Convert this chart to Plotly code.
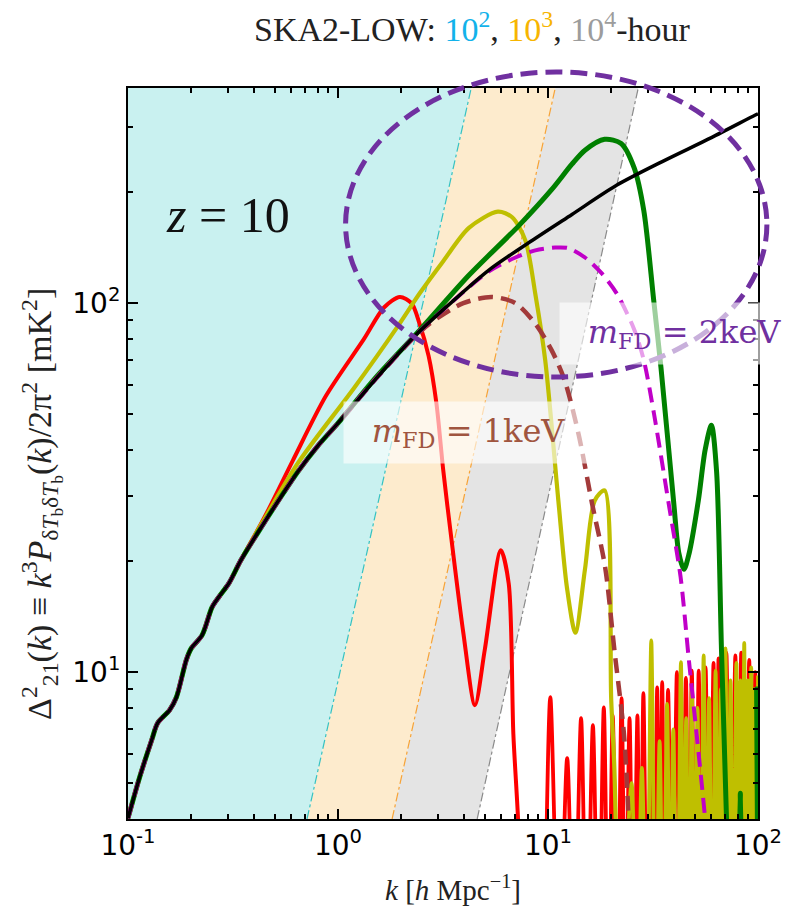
import plotly.graph_objects as go
import math

# ---------------- data ----------------
# sensitivity band edges (power-law lines): k at y = y_edge[0] and y_edge[1]
y_edge = [4.0, 383.0]
k_edge_100h = [0.712, 4.31]
k_edge_1000h = [1.81, 10.83]
k_edge_10000h = [4.60, 26.9]

# CDM (black)
k_cdm = [0.1, 0.1136, 0.1297, 0.1384, 0.1577, 0.170, 0.1896, 0.2, 0.2254, 0.2514,
         0.2711, 0.3022, 0.3446, 0.437, 0.55, 0.645, 0.8, 1.0, 1.5, 2.29, 3.3, 5.23, 8.72,
         13.0, 21.3, 35.0, 60.0, 96.6, 100.0]
d_cdm = [4.02, 5.19, 6.55, 7.28, 7.89, 8.55, 10.8, 11.6, 12.6, 15.0,
         16.0, 17.4, 20.1, 25.0, 30.6, 35.0, 41.0, 47.3, 62.0, 80.9, 98.0, 123.0, 150.0,
         174.0, 209.0, 242.0, 281.0, 323.0, 326.0]

# red model
k_red = [0.1, 0.1136, 0.1297, 0.1384, 0.1577, 0.170, 0.1896, 0.2, 0.2254, 0.2514,
         0.2711, 0.3022, 0.3446, 0.45, 0.61, 0.875, 1.33, 1.66, 1.97, 2.24, 2.44,
         2.7, 2.94, 3.17, 3.46, 3.95, 4.49, 5.0, 5.96, 6.5, 6.84, 7.2, 7.5]
d_red = [4.02, 5.19, 6.55, 7.28, 7.89, 8.55, 10.8, 11.6, 12.6, 15.0,
         16.0, 17.4, 20.1, 26.5, 37.5, 56.0, 80.0, 97.5, 104.0, 100.0, 88.3,
         72.0, 53.7, 35.3, 23.2, 12.8, 8.14, 11.5, 21.4, 17.4, 6.8, 4.0, 2.0]
# red numerical noise at high k
k_red_noise = [9.6, 10.26, 11.3, 12.34, 13.3, 14.37, 15.3, 16.36, 17.4, 18.44, 19.4,
               20.33, 21.4, 22.41, 23.4, 24.45, 25.5, 26.66, 27.5, 28.46, 29.7,
               31.03, 32.0, 33.11, 34.0, 34.97, 36.1, 37.3, 39.2, 41.1, 43.2, 45.37,
               46.9, 48.4, 50.3, 52.2, 54.2, 56.3, 58.8, 61.4, 63.1, 64.9, 67.8,
               70.7, 74.3, 78.0, 80.6, 83.2, 87.0, 90.8, 94.0, 97.0, 100.0]
d_red_noise = [1.5, 8.56, 1.5, 5.85, 1.5, 7.5, 1.5, 7.18, 1.5, 8.03, 1.5,
               7.64, 1.5, 8.5, 1.5, 7.5, 1.5, 7.64, 1.5, 8.77, 1.5,
               8.2, 1.5, 9.1, 1.5, 9.4, 1.5, 8.95, 1.5, 10.0, 1.5, 9.65,
               1.5, 10.1, 1.5, 10.1, 1.5, 10.3, 1.5, 10.6, 1.5, 10.9, 1.5,
               11.3, 1.5, 11.1, 1.5, 11.3, 1.5, 10.8, 1.5, 10.0, 1.5]

# yellow model
k_yel = [0.1, 0.1136, 0.1297, 0.1384, 0.1577, 0.170, 0.1896, 0.2, 0.2254, 0.2514,
         0.2711, 0.3022, 0.3446, 0.437, 0.645, 1.2, 1.91, 2.45, 3.17, 4.2, 5.77,
         6.75, 7.8, 8.7, 9.7, 11.2, 12.3, 13.5, 15.0, 16.7, 18.6, 20.0, 20.7, 21.5]
d_yel = [4.02, 5.19, 6.55, 7.28, 7.89, 8.55, 10.8, 11.6, 12.6, 15.0,
         16.0, 17.4, 20.1, 25.5, 36.9, 59.2, 86.0, 106.4, 130.0, 160.0, 177.0,
         171.0, 148.0, 106.0, 70.0, 29.2, 17.0, 12.8, 19.0, 29.2, 31.1, 8.4, 5.5, 2.0]
k_yel_noise = [22.5, 25.0, 26.5, 28.0, 29.5, 31.03, 32.5, 34.0, 35.4, 36.9, 38.2,
               39.5, 41.2, 42.96, 44.2, 45.5, 47.0, 48.4, 50.0, 51.5, 53.3, 55.1,
               56.8, 58.5, 60.6, 62.8, 64.6, 66.5, 68.2, 70.0, 72.0, 74.0, 76.4,
               78.9, 80.7, 82.5, 84.2, 86.0, 87.7, 89.5, 91.1, 92.8, 94.6, 96.5, 98.5, 100.0]
d_yel_noise = [1.5, 5.0, 1.5, 5.5, 1.5, 12.2, 1.5, 6.5, 1.5, 8.2, 1.5,
               7.0, 1.5, 10.65, 1.5, 7.5, 1.5, 9.1, 1.5, 8.0, 1.5, 11.1,
               1.5, 8.5, 1.5, 10.1, 1.5, 9.0, 1.5, 11.6, 1.5, 9.5, 1.5,
               10.6, 1.5, 9.5, 1.5, 12.0, 1.5, 9.5, 1.5, 10.3, 1.5, 9.0, 1.5, 9.8]

# green model
k_grn = [0.1, 0.1136, 0.1297, 0.1384, 0.1577, 0.170, 0.1896, 0.2, 0.2254, 0.2514,
         0.2711, 0.3022, 0.3446, 0.437, 0.55, 0.645, 0.8, 1.0, 1.5, 2.45, 4.2, 7.25, 10.4,
         13.0, 15.0, 18.6, 22.3, 25.7, 28.6, 31.8, 34.5, 39.6, 42.0, 44.4, 47.0, 52.0,
         56.0, 60.0, 63.5, 67.0, 70.8, 73.0, 80.0, 82.4, 85.0, 96.0, 98.5, 100.0]
d_grn = [4.02, 5.19, 6.55, 7.28, 7.89, 8.55, 10.8, 11.6, 12.6, 15.0,
         16.0, 17.4, 20.1, 25.0, 30.6, 35.0, 41.0, 47.3, 62.5, 84.5, 119.0, 162.0, 203.0,
         238.0, 259.7, 278.0, 271.0, 233.0, 178.0, 103.0, 67.0, 29.2, 21.0, 19.0, 21.0, 29.2,
         40.0, 46.7, 35.0, 11.5, 4.0, 2.0, 2.0, 4.7, 2.0, 2.0, 9.0, 2.0]

# m_FD = 1 keV (brown dashed)
k_1kev = [0.1, 0.1136, 0.1297, 0.1384, 0.1577, 0.170, 0.1896, 0.2, 0.2254, 0.2514,
          0.2711, 0.3022, 0.3446, 0.437, 0.55, 0.645, 0.8, 1.0, 1.5, 2.29, 2.73, 3.95, 5.4,
          7.0, 8.7, 10.4, 12.0, 14.0, 16.2, 18.7, 20.7, 23.0, 24.2, 25.0]
d_1kev = [4.02, 5.19, 6.55, 7.28, 7.89, 8.55, 10.8, 11.6, 12.6, 15.0,
          16.0, 17.4, 20.1, 25.0, 30.6, 35.0, 41.0, 47.3, 62.0, 80.5, 88.0, 100.0, 104.0,
          100.0, 88.0, 74.6, 61.8, 44.0, 28.7, 19.3, 11.5, 6.8, 4.0, 2.5]

# m_FD = 2 keV (magenta dashed)
k_2kev = [0.1, 0.1136, 0.1297, 0.1384, 0.1577, 0.170, 0.1896, 0.2, 0.2254, 0.2514,
          0.2711, 0.3022, 0.3446, 0.437, 0.55, 0.645, 0.8, 1.0, 1.5, 2.29, 3.3, 5.23, 7.0,
          8.7, 10.8, 12.5, 15.0, 17.9, 21.3, 25.7, 28.6, 32.0, 37.8, 42.8, 46.7,
          51.0, 56.0, 58.0]
d_2kev = [4.02, 5.19, 6.55, 7.28, 7.89, 8.55, 10.8, 11.6, 12.6, 15.0,
          16.0, 17.4, 20.1, 25.0, 30.6, 35.0, 41.0, 47.3, 62.0, 80.9, 98.0, 122.0, 133.0,
          139.0, 141.5, 141.0, 133.0, 121.0, 106.0, 85.0, 70.0, 50.0, 28.0, 18.1, 11.0,
          6.8, 4.0, 3.0]

x_tickvals = [0.1, 1, 10, 100]
x_ticktext = ["10<sup>-1</sup>", "10<sup>0</sup>", "10<sup>1</sup>", "10<sup>2</sup>"]
y_tickvals = [10, 100]
y_ticktext = ["10<sup>1</sup>", "10<sup>2</sup>"]

# ---------------- figure ----------------
fig = go.Figure()

def band(kl, kr, color):
    fig.add_trace(go.Scatter(
        x=[kl[0], kl[1], kr[1], kr[0], kl[0]],
        y=[y_edge[0], y_edge[1], y_edge[1], y_edge[0], y_edge[0]],
        fill="toself", fillcolor=color, mode="lines",
        line=dict(width=0, color=color), hoverinfo="skip", showlegend=False))

band([0.1, 0.1], k_edge_100h, "#c9f1f0")
band(k_edge_100h, k_edge_1000h, "#fdebcd")
band(k_edge_1000h, k_edge_10000h, "#e4e4e4")

for ke, c in [(k_edge_100h, "#35c2c2"), (k_edge_1000h, "#f7a336"), (k_edge_10000h, "#8a8a8a")]:
    fig.add_trace(go.Scatter(x=ke, y=y_edge, mode="lines",
                             line=dict(color=c, width=1.2, dash="dashdot"),
                             hoverinfo="skip", showlegend=False))

def curve(k, d, color, width, dash="solid", shape="spline"):
    fig.add_trace(go.Scatter(x=k, y=d, mode="lines",
                             line=dict(color=color, width=width, dash=dash,
                                       shape=shape, smoothing=0.8),
                             showlegend=False))

curve(k_red, d_red, "#ff0000", 4)
curve(k_red_noise, d_red_noise, "#ff0000", 3.8)
curve(k_yel, d_yel, "#bfbf00", 4.2)
curve(k_yel_noise, d_yel_noise, "#bfbf00", 3.8)
curve(k_grn, d_grn, "#008000", 5)
curve(k_1kev, d_1kev, "#a33a3a", 4.5, dash="15px,8px")
curve(k_2kev, d_2kev, "#c000c8", 4, dash="15px,8px")
curve(k_cdm, d_cdm, "#000000", 3.5)

L, R, T, B = 128, 29, 88, 97
W, H = 794, 916
pw, ph = W - L - R, H - T - B

def px(x):
    return (x - L) / pw

def py(y):
    return (H - B - y) / ph

serif = "Liberation Serif"

fig.update_layout(
    width=W, height=H,
    margin=dict(l=L, r=R, t=T, b=B),
    paper_bgcolor="white", plot_bgcolor="white",
    showlegend=False,
    xaxis=dict(type="log", range=[-1, 2], showline=True, linecolor="black", linewidth=2,
               mirror="allticks", ticks="inside", ticklen=10, tickwidth=2, tickcolor="black",
               tickvals=x_tickvals, ticktext=x_ticktext, showgrid=False, zeroline=False,
               tickfont=dict(family="DejaVu Sans", size=28, color="black"),
               minor=dict(ticks="inside", ticklen=5, tickwidth=1.5, tickcolor="black",
                          tickvals=[m * 10 ** e for e in (-1, 0, 1) for m in range(2, 10)],
                          showgrid=False)),
    yaxis=dict(type="log", range=[math.log10(4.0), math.log10(383.0)], showline=True,
               linecolor="black", linewidth=2,
               mirror="allticks", ticks="inside", ticklen=10, tickwidth=2, tickcolor="black",
               tickvals=y_tickvals, ticktext=y_ticktext, showgrid=False, zeroline=False,
               tickfont=dict(family="DejaVu Sans", size=28, color="black"),
               minor=dict(ticks="inside", ticklen=5, tickwidth=1.5, tickcolor="black",
                          tickvals=[5, 6, 7, 8, 9, 20, 30, 40, 50, 60, 70, 80, 90, 200, 300],
                          showgrid=False)),
)

fig.add_shape(type="circle", xref="paper", yref="paper",
              x0=px(348), x1=px(774), y0=py(377), y1=py(72),
              line=dict(color="#7030a0", width=5, dash="17px,8px"), layer="above")

def note(x, y, text, font, **kw):
    d = dict(x=px(x), y=py(y), xref="paper", yref="paper", showarrow=False,
             xanchor="center", yanchor="middle", text=text, font=font)
    d.update(kw)
    return d

ann = []
ann.append(note(476, 27,
                "SKA2-LOW: <span style='color:#12b2ea'>10<sup>2</sup></span>, "
                "<span style='color:#f7b500'>10<sup>3</sup></span>, "
                "<span style='color:#9c9c9c'>10<sup>4</sup></span>-hour",
                dict(family=serif, size=34, color="#222222")))
ann.append(note(229, 215, "<i>z</i> = 10", dict(family=serif, size=50, color="#111111")))
ann.append(note(472, 432, "<i>m</i><sub>FD</sub> = 1keV",
                dict(family="DejaVu Serif", size=32, color="#a0553f"),
                width=249, height=61, bgcolor="rgba(255,255,255,0.62)", borderpad=0))
ann.append(note(691, 333, "<i>m</i><sub>FD</sub> = 2keV",
                dict(family="DejaVu Serif", size=32, color="#7030a0"),
                width=249, height=61, bgcolor="rgba(255,255,255,0.62)", borderpad=0))
ann.append(note(457, 888, "<i>k</i> [<i>h</i> Mpc<sup>−1</sup>]",
                dict(family=serif, size=29, color="#222222")))
ann.append(note(40, 504,
                "Δ<sup>2</sup><sub>21</sub>(<i>k</i>) ≡ <i>k</i><sup>3</sup><i>P</i>"
                "<sub>δ<i>T</i><sub>b</sub>δ<i>T</i><sub>b</sub></sub>(<i>k</i>)/2π<sup>2</sup> [mK<sup>2</sup>]",
                dict(family=serif, size=34, color="#222222"), textangle=-90))
fig.update_layout(annotations=ann)

fig.write_html("out.html")
